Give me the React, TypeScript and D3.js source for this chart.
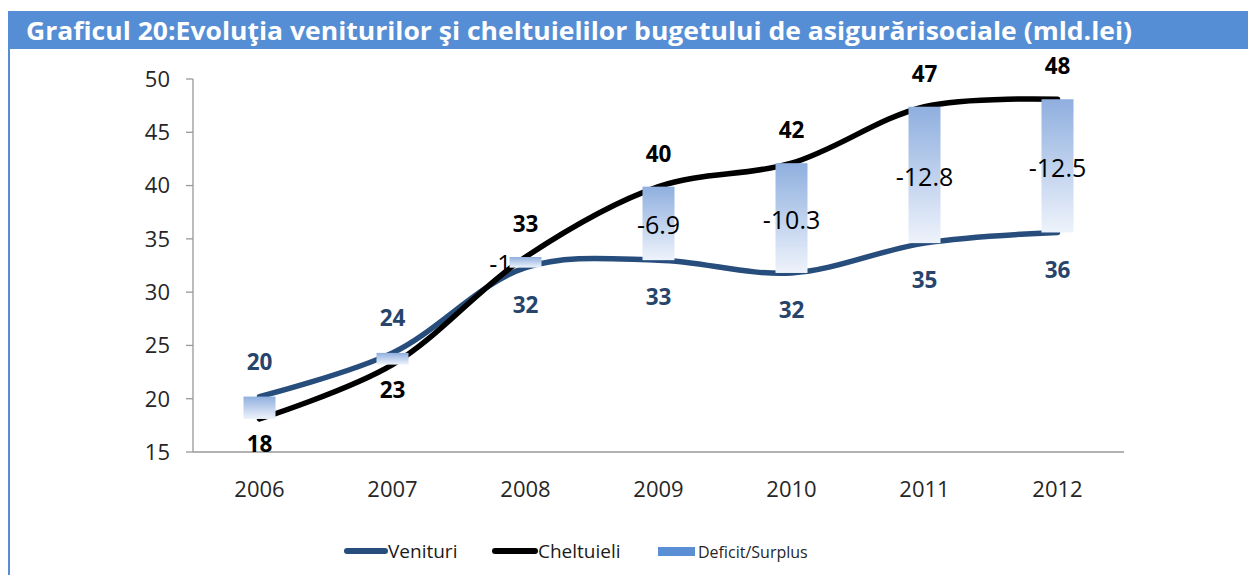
import React from "react";
import * as d3 from "d3";

const years = ["2006", "2007", "2008", "2009", "2010", "2011", "2012"];
const venituri = [20.2, 24.3, 32.3, 33.0, 31.8, 34.6, 35.6];
const cheltuieli = [18.1, 23.2, 33.3, 39.9, 42.1, 47.4, 48.1];
const yTicks = [15, 20, 25, 30, 35, 40, 45, 50];
const titleText = "Graficul 20:Evoluţia veniturilor şi cheltuielilor bugetului de asigurărisociale (mld.lei)";
const legendLabels = ["Venituri", "Cheltuieli", "Deficit/Surplus"];

const W = 1248;
const H = 575;
const VEN_COLOR = "#264d7c";
const CH_COLOR = "#000000";
const FONT = "'Open Sans', 'Noto Sans', sans-serif";

export default function App() {
  const x = d3.scaleBand<string>().domain(years).range([193, 1124]).paddingInner(0).paddingOuter(0);
  const y = d3.scaleLinear().domain([15, 50]).range([452, 79]);
  const cx = (yr: string) => (x(yr) as number) + x.bandwidth() / 2;

  const line = d3
    .line<number>()
    .x((_, i) => cx(years[i]))
    .y((d) => y(d))
    .curve(d3.curveCatmullRom.alpha(0.5));

  const barW = 32;
  const fmt = (v: number) => String(Number(v.toFixed(1)));

  return (
    <div style={{ position: "fixed", left: 0, top: 0 }}>
      <svg width={W} height={H} style={{ display: "block", background: "#fff" }} fontFamily={FONT}>
        <defs>
          <linearGradient id="barGrad" x1="0" y1="0" x2="0" y2="1">
            <stop offset="0%" stopColor="#8fafdf" />
            <stop offset="100%" stopColor="#eef3fb" />
          </linearGradient>
        </defs>

        {/* title bar */}
        <rect x={8} y={11} width={W - 8} height={38} fill="#558ed5" />
        <text x={26} y={39.5} fill="#fff" fontWeight="bold" fontSize={24.5} textLength={1106} lengthAdjust="spacingAndGlyphs">
          {titleText}
        </text>
        <line x1={9} x2={9} y1={49} y2={H} stroke="#558ed5" strokeWidth={2} />

        {/* y axis */}
        <line x1={193} x2={193} y1={y(50)} y2={y(15)} stroke="#999" strokeWidth={1.3} />
        {yTicks.map((t) => (
          <g key={t}>
            <line x1={186} x2={193} y1={y(t)} y2={y(t)} stroke="#999" strokeWidth={1.3} />
            <text x={170} y={y(t)} dy="0.36em" textAnchor="end" fontSize={22} fill="#262626">
              {t}
            </text>
          </g>
        ))}

        {/* x axis */}
        <line x1={193} x2={1124} y1={y(15)} y2={y(15)} stroke="#999" strokeWidth={1.3} />
        {years.map((yr) => (
          <text key={yr} x={cx(yr)} y={489} dy="0.36em" textAnchor="middle" fontSize={22} fill="#262626">
            {yr}
          </text>
        ))}

        {/* lines */}
        <path d={line(venituri) || ""} fill="none" stroke={VEN_COLOR} strokeWidth={5.5} strokeLinecap="round" />
        <path d={line(cheltuieli) || ""} fill="none" stroke={CH_COLOR} strokeWidth={5.5} strokeLinecap="round" />

        {/* deficit / surplus bars */}
        {years.map((yr, i) => {
          const top = y(Math.max(venituri[i], cheltuieli[i]));
          const bot = y(Math.min(venituri[i], cheltuieli[i]));
          return (
            <rect key={yr} x={cx(yr) - barW / 2} y={top} width={barW} height={bot - top} fill="url(#barGrad)" />
          );
        })}

        {/* deficit labels */}
        {years.map((yr, i) => {
          const diff = venituri[i] - cheltuieli[i];
          if (diff >= 0) return null;
          const top = y(cheltuieli[i]);
          const bot = y(venituri[i]);
          const small = bot - top < 20;
          return (
            <text
              key={yr}
              x={small ? cx(yr) - barW / 2 + 2 : cx(yr)}
              y={(top + bot) / 2 + 2}
              dy="0.36em"
              textAnchor={small ? "end" : "middle"}
              fontSize={25}
              fill="#000"
            >
              {fmt(diff)}
            </text>
          );
        })}

        {/* value labels */}
        {years.map((yr, i) => {
          const chAbove = cheltuieli[i] > venituri[i];
          const chY = chAbove ? y(cheltuieli[i]) - 33 : y(cheltuieli[i]) + 25;
          const venY = chAbove ? y(venituri[i]) + 37 : y(venituri[i]) - 35;
          return (
            <g key={yr} fontWeight="bold" fontSize={22.5} textAnchor="middle">
              <text x={cx(yr)} y={chY} dy="0.36em" fill="#000">
                {Math.round(cheltuieli[i])}
              </text>
              <text x={cx(yr)} y={venY} dy="0.36em" fill="#27446b">
                {Math.round(venituri[i])}
              </text>
            </g>
          );
        })}

        {/* legend */}
        <line x1={347} x2={385} y1={551} y2={551} stroke={VEN_COLOR} strokeWidth={6} strokeLinecap="round" />
        <text x={388} y={551} dy="0.36em" fontSize={19} fill="#1a1a1a">
          {legendLabels[0]}
        </text>
        <line x1={495} x2={535} y1={551} y2={551} stroke={CH_COLOR} strokeWidth={6} strokeLinecap="round" />
        <text x={538} y={551} dy="0.36em" fontSize={19} fill="#1a1a1a">
          {legendLabels[1]}
        </text>
        <rect x={658} y={547} width={37} height={9} fill="#5a8fd6" />
        <text x={698} y={552} dy="0.36em" fontSize={16} fill="#262626">
          {legendLabels[2]}
        </text>
      </svg>
    </div>
  );
}
